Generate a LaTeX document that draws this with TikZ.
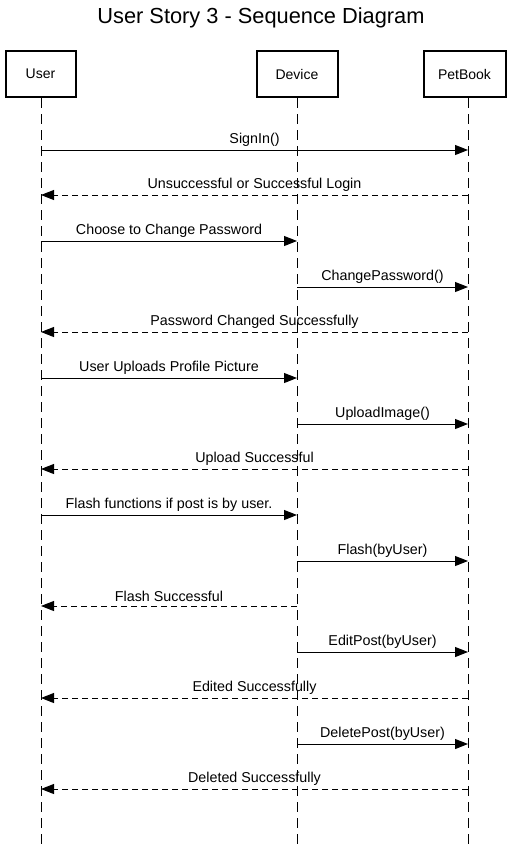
\documentclass[tikz,border=0pt]{standalone}
\usepackage{fontspec}
\setmainfont{Liberation Sans}
\usetikzlibrary{arrows.meta}
\begin{document}
\begin{tikzpicture}[x=1pt,y=-1pt,
  actor/.style={draw,line width=2pt,minimum height=46pt,inner sep=0pt,font=\fontsize{14}{16}\selectfont},
  life/.style={line width=1pt,dash pattern=on 10pt off 6pt},
  msg/.style={line width=1pt,-{Triangle[length=13pt,width=10pt]}},
  ret/.style={msg,dash pattern=on 6pt off 4pt},
  lbl/.style={above=2.5pt,inner sep=1pt,font=\fontsize{14.3}{16}\selectfont}]
\useasboundingbox[fill=white] (0,0) rectangle (521,847);
\node[font=\fontsize{21.8}{24}\selectfont] (title) at (261,18) {User Story 3 - Sequence Diagram};
\node[actor,minimum width=70pt] (user) at (40.5,74) {User};
\node[actor,minimum width=81pt] (device) at (297,74) {Device};
\node[actor,minimum width=82pt] (petbook) at (464.5,74) {PetBook};
\coordinate (uTop) at (41,98);
\coordinate (dTop) at (297,98);
\coordinate (pTop) at (468,98);
\coordinate (uEnd) at (41,847);
\coordinate (dEnd) at (297,847);
\coordinate (pEnd) at (468,847);
\draw[life] (uTop) -- (uEnd);
\draw[life] (dTop) -- (dEnd);
\draw[life] (pTop) -- (pEnd);
\foreach \i/\y in {1/150,2/195,3/241,4/287,5/332,6/378,7/424,8/469,9/515,10/561,11/606,12/652,13/698,14/744,15/789}{
  \coordinate (U\i) at (41,\y);
  \coordinate (D\i) at (297,\y);
  \coordinate (P\i) at (468,\y);
}
\draw[msg] (U1) -- node[lbl]{SignIn()} (P1);
\draw[ret] (P2) -- node[lbl]{Unsuccessful or Successful Login} (U2);
\draw[msg] (U3) -- node[lbl]{Choose to Change Password} (D3);
\draw[msg] (D4) -- node[lbl]{ChangePassword()} (P4);
\draw[ret] (P5) -- node[lbl]{Password Changed Successfully} (U5);
\draw[msg] (U6) -- node[lbl]{User Uploads Profile Picture} (D6);
\draw[msg] (D7) -- node[lbl]{UploadImage()} (P7);
\draw[ret] (P8) -- node[lbl]{Upload Successful} (U8);
\draw[msg] (U9) -- node[lbl]{Flash functions if post is by user.} (D9);
\draw[msg] (D10) -- node[lbl]{Flash(byUser)} (P10);
\draw[ret] (D11) -- node[lbl]{Flash Successful} (U11);
\draw[msg] (D12) -- node[lbl]{EditPost(byUser)} (P12);
\draw[ret] (P13) -- node[lbl]{Edited Successfully} (U13);
\draw[msg] (D14) -- node[lbl]{DeletePost(byUser)} (P14);
\draw[ret] (P15) -- node[lbl]{Deleted Successfully} (U15);
\end{tikzpicture}
\end{document}
